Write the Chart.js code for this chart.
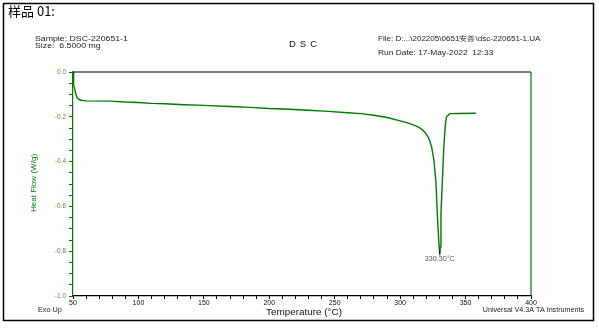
<!DOCTYPE html>
<html>
<head>
<meta charset="utf-8">
<script src="https://cdn.jsdelivr.net/npm/chart.js@4.4.0/dist/chart.umd.min.js"></script>
<style>
  body { margin: 0; background: #fff; }
  #wrap { width: 599px; height: 328px; }
</style>
</head>
<body>
<div id="wrap"><canvas id="dsc" width="599" height="328"></canvas></div>
<script>
// Dados da curva DSC (temperatura em °C, fluxo de calor em W/g)
const temperaturas = [
    50.0, 50.3, 50.6, 51.0, 52.0, 53.0, 54.0, 56.0, 60.0, 78.0,
    90.0, 100.0, 110.0, 120.0, 135.0, 150.0, 170.0, 185.0, 200.0, 215.0,
    230.0, 245.0, 260.0, 270.0, 280.0, 290.0, 300.0, 305.0, 310.0, 314.0,
    317.0, 319.0, 321.0, 322.5, 324.0, 325.8, 327.4, 328.6, 329.8, 330.3,
    330.7, 331.2, 332.4, 333.4, 334.4, 335.4, 338.0, 345.0, 358.0
];
const fluxoCalor = [
    0.000, -0.010, -0.060, -0.070, -0.095, -0.112, -0.120, -0.126, -0.129, -0.130,
    -0.134, -0.136, -0.140, -0.142, -0.146, -0.149, -0.154, -0.158, -0.163, -0.166,
    -0.171, -0.176, -0.182, -0.186, -0.193, -0.203, -0.218, -0.226, -0.236, -0.246,
    -0.257, -0.270, -0.287, -0.305, -0.333, -0.393, -0.496, -0.660, -0.780, -0.810,
    -0.780, -0.630, -0.467, -0.333, -0.244, -0.200, -0.186, -0.185, -0.184
];

// Rótulos dos eixos
const rotulosX = [50, 100, 150, 200, 250, 300, 350, 400];
const rotulosY = [0.0, -0.2, -0.4, -0.6, -0.8, -1.0];

// Pico endotérmico
const picoTemperatura = 330.30;
const picoFluxo = -0.81;

// Textos do cabeçalho e rodapé
const tituloAmostra = '样品 01:';
const linhaAmostra = 'Sample: DSC-220651-1';
const linhaTamanho = 'Size:  6.5000 mg';
const linhaArquivo = 'File: D:...\\202205\\0651安普\\dsc-220651-1.UA';
const linhaData = 'Run Date: 17-May-2022  12:33';
const tituloGrafico = 'DSC';
const tituloX = 'Temperature (°C)';
const tituloY = 'Heat Flow (W/g)';
const rodapeEsq = 'Exo Up';
const rodapeDir = 'Universal V4.3A TA Instruments';

const VERDE = '#007a00';
const FONTE = '"Liberation Sans", Arial, sans-serif';

// Texto com esticamento horizontal opcional
function texto(ctx, str, x, y, tamanho, cor, esticar = 1, alinhar = 'left', peso = 'normal') {
    ctx.save();
    ctx.translate(x, y);
    ctx.scale(esticar, 1);
    ctx.font = `${peso} ${tamanho}px ${FONTE}`;
    ctx.fillStyle = cor;
    ctx.textAlign = alinhar;
    ctx.textBaseline = 'middle';
    ctx.fillText(str, 0, 0);
    ctx.restore();
}

// Plugin para moldura, cabeçalho e anotações
const anotacoes = {
    id: 'anotacoes',
    afterDraw(chart) {
        const ctx = chart.ctx;
        const area = chart.chartArea;
        const sx = chart.scales.x;
        const sy = chart.scales.y;

        // Moldura externa
        ctx.save();
        ctx.strokeStyle = '#000';
        ctx.lineWidth = 1.5;
        ctx.strokeRect(3.5, 3.5, 590, 317);

        // Borda superior preta e borda direita verde da área do gráfico
        ctx.lineWidth = 1.2;
        ctx.beginPath();
        ctx.moveTo(area.left, area.top);
        ctx.lineTo(area.right, area.top);
        ctx.stroke();
        ctx.strokeStyle = VERDE;
        ctx.beginPath();
        ctx.moveTo(area.right, area.top);
        ctx.lineTo(area.right, area.bottom);
        ctx.stroke();
        ctx.restore();

        // Cabeçalho
        ctx.save();
        ctx.font = `13px "Noto Sans CJK SC", ${FONTE}`;
        ctx.fillStyle = '#000';
        ctx.textBaseline = 'middle';
        ctx.fillText(tituloAmostra, 8, 11);
        ctx.restore();

        texto(ctx, linhaAmostra, 35, 39, 7, '#222', 1.25);
        texto(ctx, linhaTamanho, 35, 46, 7, '#222', 1.25);
        texto(ctx, linhaArquivo, 378, 39, 7, '#222', 1.15);
        texto(ctx, linhaData, 378, 53, 7, '#222', 1.2);

        ctx.save();
        ctx.font = `9.5px ${FONTE}`;
        ctx.fillStyle = '#111';
        ctx.textBaseline = 'middle';
        ctx.letterSpacing = '4px';
        ctx.fillText(tituloGrafico, 289, 44);
        ctx.restore();

        // Títulos dos eixos
        texto(ctx, tituloX, 304, 313, 9, '#111', 1.1, 'center');
        ctx.save();
        ctx.translate(34, 183);
        ctx.rotate(-Math.PI / 2);
        texto(ctx, tituloY, 0, 0, 7, VERDE, 1.15, 'center');
        ctx.restore();

        // Rodapé
        texto(ctx, rodapeEsq, 38, 310, 6.5, '#222', 1.12);
        texto(ctx, rodapeDir, 584, 310, 6.5, '#222', 1.1, 'right');

        // Marca e rótulo do pico
        const px = sx.getPixelForValue(picoTemperatura);
        const py = sy.getPixelForValue(picoFluxo);
        ctx.save();
        ctx.strokeStyle = '#000';
        ctx.lineWidth = 1;
        ctx.beginPath();
        ctx.moveTo(px, py - 3);
        ctx.lineTo(px, py + 2);
        ctx.stroke();
        ctx.restore();
        texto(ctx, picoTemperatura.toFixed(2) + '°C', px, py + 6, 6.5, '#555', 1.1, 'center');
    }
};

new Chart(document.getElementById('dsc'), {
    type: 'scatter',
    data: {
        datasets: [{
            data: temperaturas.map((t, i) => ({ x: t, y: fluxoCalor[i] })),
            showLine: true,
            borderColor: VERDE,
            borderWidth: 1.4,
            pointRadius: 0,
            tension: 0,
            fill: false
        }]
    },
    options: {
        responsive: false,
        animation: false,
        layout: {
            padding: { left: 28, top: 72, right: 68, bottom: 12 }
        },
        plugins: {
            legend: { display: false },
            tooltip: { enabled: false }
        },
        scales: {
            x: {
                type: 'linear',
                min: 50,
                max: 400,
                afterFit: s => { s.height = 20; },
                grid: { drawOnChartArea: false, drawTicks: true, tickLength: 3, tickColor: '#000' },
                border: { color: '#000', width: 1.2 },
                ticks: {
                    stepSize: 10,
                    autoSkip: false,
                    maxRotation: 0,
                    padding: 0,
                    color: '#111',
                    font: { size: 7, family: FONTE },
                    callback: v => rotulosX.includes(v) ? String(v) : ''
                }
            },
            y: {
                min: -1.0,
                max: 0.0,
                afterFit: s => { s.width = 45; },
                grid: { drawOnChartArea: false, drawTicks: true, tickLength: 4, tickColor: VERDE },
                border: { color: VERDE, width: 1.2 },
                ticks: {
                    stepSize: 0.05,
                    autoSkip: false,
                    padding: 3,
                    color: '#5a8f3a',
                    font: { size: 6.5, family: FONTE },
                    callback: v => {
                        const r = Math.round(v * 10) / 10;
                        return (Math.abs(v - r) < 1e-6 && rotulosY.includes(r)) ? r.toFixed(1) : '';
                    }
                }
            }
        }
    },
    plugins: [anotacoes]
});
</script>
</body>
</html>
